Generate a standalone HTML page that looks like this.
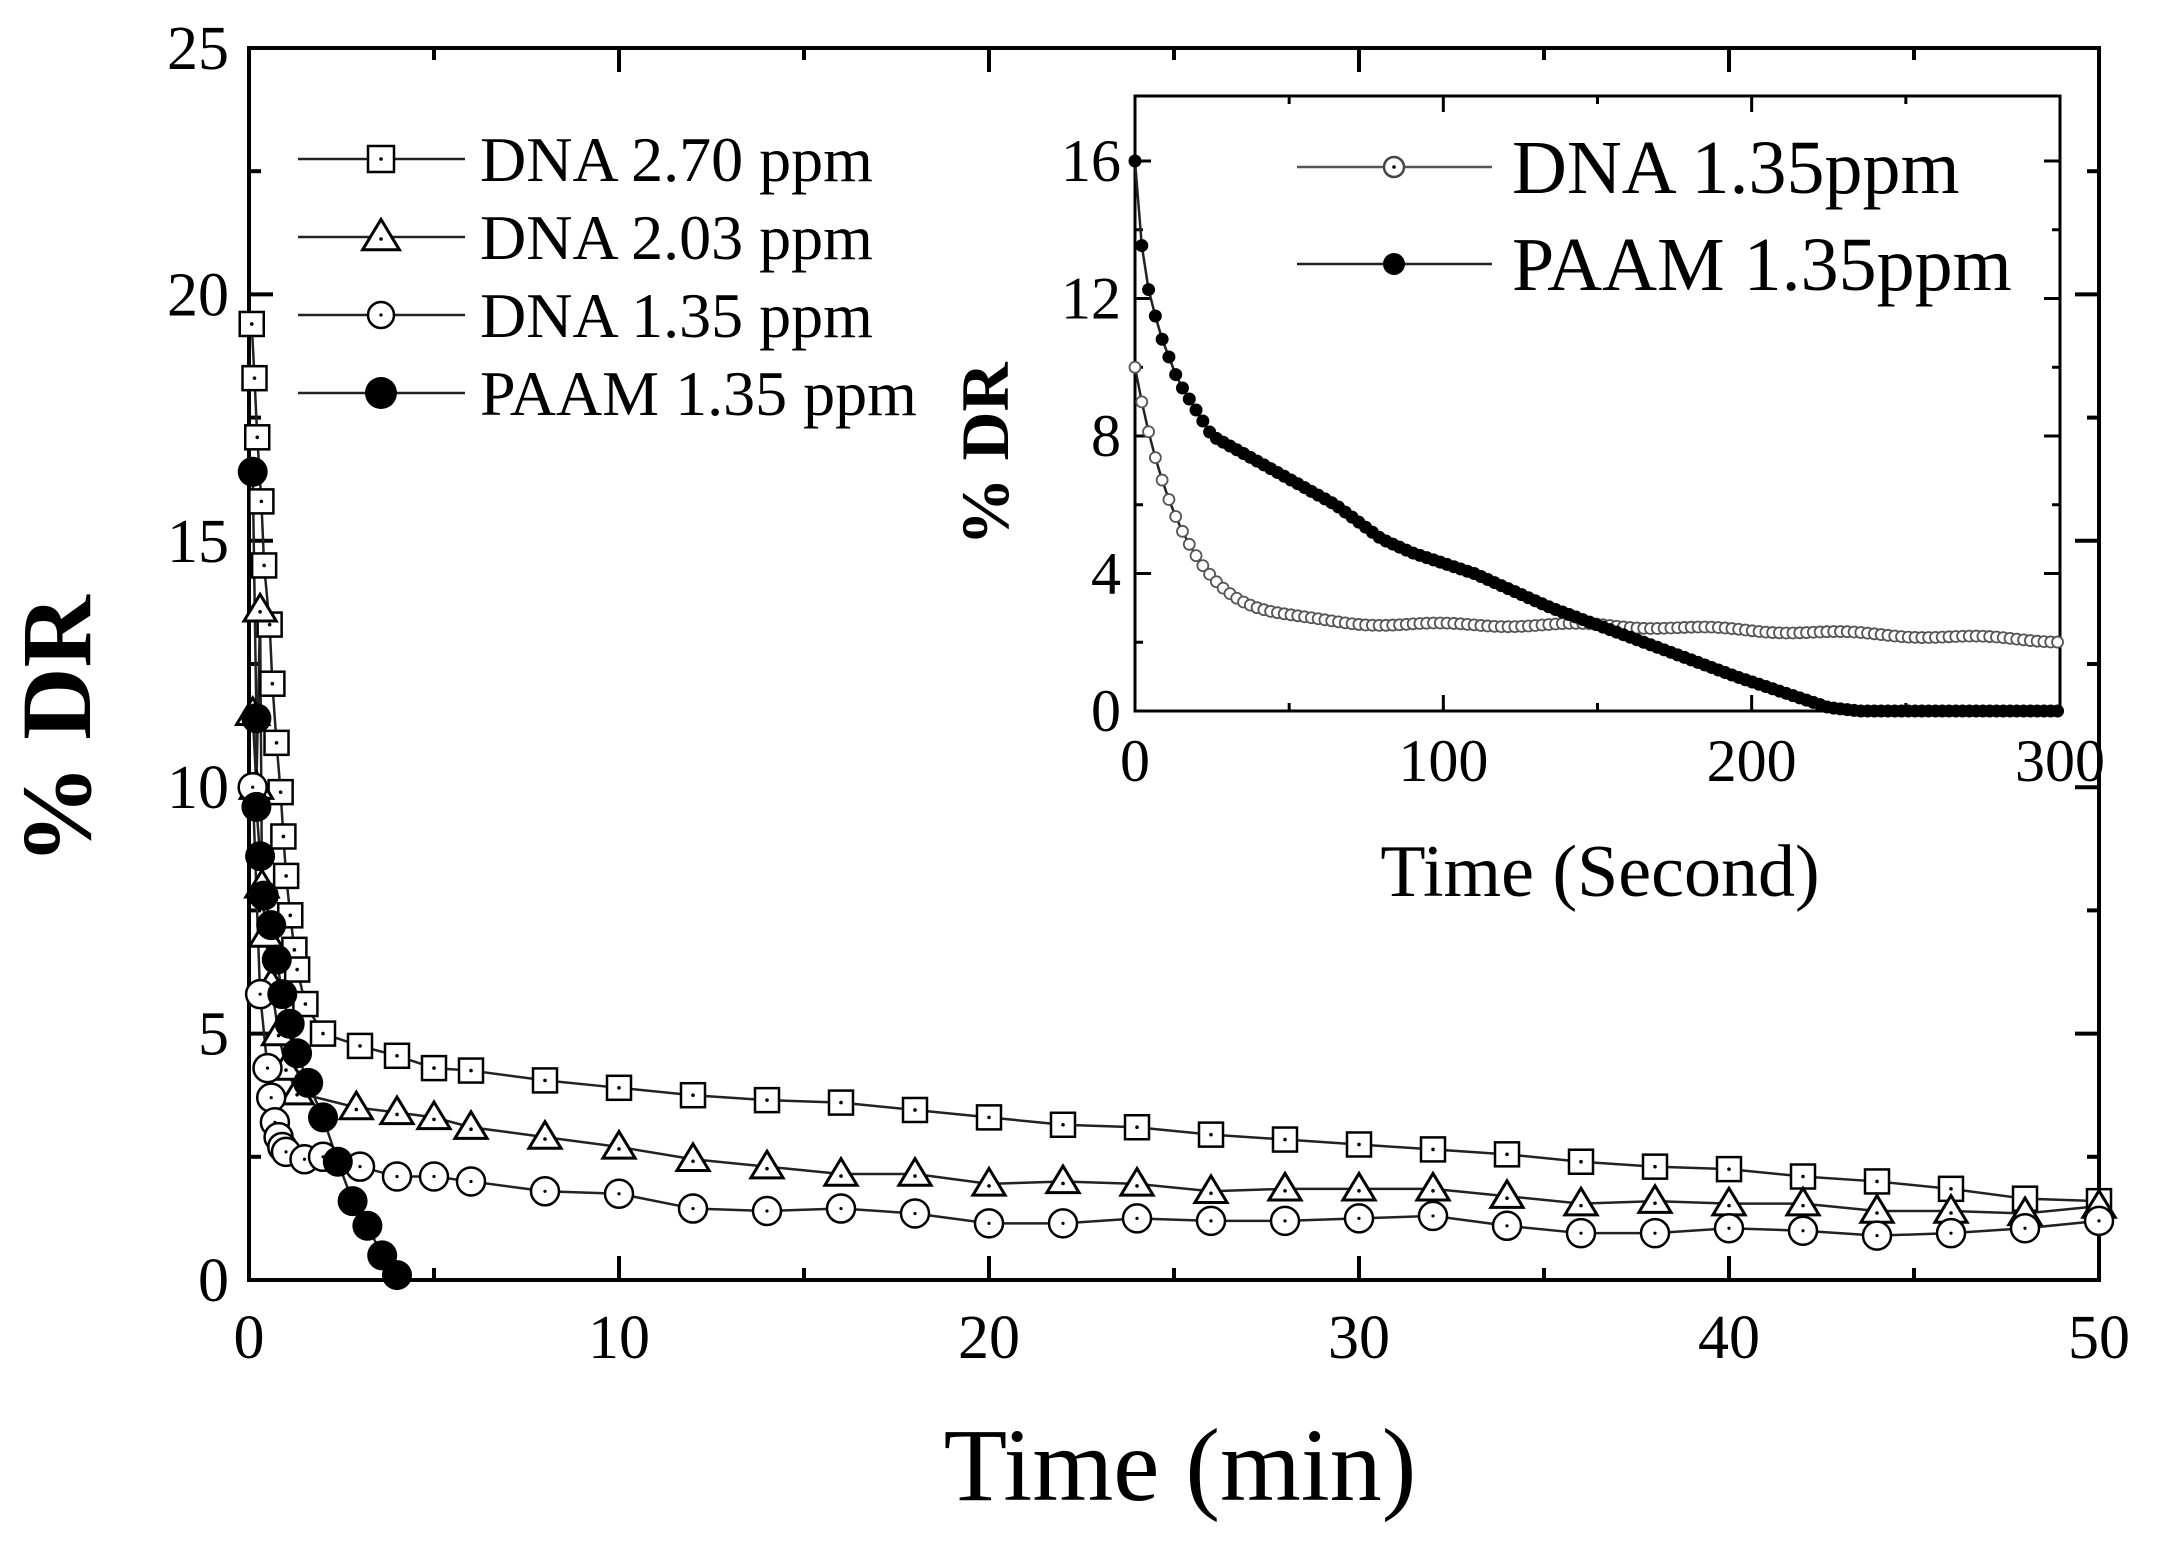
<!DOCTYPE html><html><head><style>body{margin:0;background:#fff}svg{display:block}text{font-family:"Liberation Serif",serif;fill:#000}</style></head><body>
<svg id="s" width="2158" height="1552" xmlns="http://www.w3.org/2000/svg"></svg>
<script>
const s=document.getElementById('s');let h='';
const X0=249,X1=2099,Y0=1280,Y1=48;
const mx=t=>X0+(X1-X0)*t/50,my=v=>Y0-(Y0-Y1)*v/25;
h+=`<rect x="${X0}" y="${Y1}" width="${X1-X0}" height="${Y0-Y1}" fill="none" stroke="#000" stroke-width="4"/>`;
for(let t=0;t<=50;t+=5){const L=t%10?12:24;h+=`<line x1="${mx(t)}" y1="${Y0}" x2="${mx(t)}" y2="${Y0-L}" stroke="#000" stroke-width="4"/><line x1="${mx(t)}" y1="${Y1}" x2="${mx(t)}" y2="${Y1+L}" stroke="#000" stroke-width="4"/>`;
 if(t%10==0)h+=`<text x="${mx(t)}" y="${Y0+78}" font-size="62" text-anchor="middle">${t}</text>`;}
for(let v=0;v<=25;v+=2.5){const L=(v%5)?12:24;h+=`<line x1="${X0}" y1="${my(v)}" x2="${X0+L}" y2="${my(v)}" stroke="#000" stroke-width="4"/><line x1="${X1}" y1="${my(v)}" x2="${X1-L}" y2="${my(v)}" stroke="#000" stroke-width="4"/>`;
 if(v%5==0)h+=`<text x="${X0-20}" y="${my(v)+21}" font-size="62" text-anchor="end">${v}</text>`;}
h+=`<text x="1180" y="1500" font-size="104" text-anchor="middle">Time (min)</text>`;
h+=`<text transform="translate(90,730) rotate(-90)" font-size="100" font-weight="bold" text-anchor="middle">% DR</text>`;
function line(pts,fx,fy){return `<polyline points="${pts.map(p=>fx(p[0])+','+fy(p[1])).join(' ')}" fill="none" stroke="#222" stroke-width="2.5"/>`}
function mk(type,x,y,r){
 if(type=='sq')return `<rect x="${x-r}" y="${y-r}" width="${2*r}" height="${2*r}" fill="#fff" stroke="#000" stroke-width="2.5"/><circle cx="${x}" cy="${y}" r="1.8"/>`;
 if(type=='tr')return `<polygon points="${x},${y-r*1.1} ${x-r*1.15},${y+r*0.8} ${x+r*1.15},${y+r*0.8}" fill="#fff" stroke="#000" stroke-width="3"/><circle cx="${x}" cy="${y+2}" r="1.8"/>`;
 if(type=='ci')return `<circle cx="${x}" cy="${y}" r="${r}" fill="#fff" stroke="#000" stroke-width="2.5"/><circle cx="${x}" cy="${y}" r="1.6"/>`;
 return `<circle cx="${x}" cy="${y}" r="${r}" fill="#000"/>`;}
const sqE=[[183,19.4],[185,18.3],[187,17.1],[190,15.8],[192,14.5],[196,13.3],[198,12.1],[201,10.9],[204,9.9],[206,9.0],[208,8.2],[211,7.4],[214,6.7],[216,6.3],[222,5.6]].map(p=>[(p[0]-181)/26.9,p[1]]);
const sq=sqE.concat([[2,5.0],[3,4.75],[4,4.55],[5,4.3],[6,4.25],[8,4.05],[10,3.9],[12,3.75],[14,3.65],[16,3.6],[18,3.45],[20,3.3],[22,3.15],[24,3.1],[26,2.95],[28,2.85],[30,2.75],[32,2.65],[34,2.55],[36,2.4],[38,2.3],[40,2.25],[42,2.1],[44,2.0],[46,1.85],[48,1.65],[50,1.6]]);
const tr=[[0.1,11.5],[0.2,10],[0.3,13.6],[0.35,8],[0.45,7],[0.6,6],[0.8,5],[1.0,4.3],[1.3,3.8],[2.9,3.5],[4,3.4],[5,3.3],[6,3.1],[8,2.9],[10,2.7],[12,2.45],[14,2.3],[16,2.15],[18,2.15],[20,1.95],[22,2.0],[24,1.95],[26,1.8],[28,1.85],[30,1.85],[32,1.85],[34,1.7],[36,1.55],[38,1.6],[40,1.55],[42,1.55],[44,1.4],[46,1.4],[48,1.35],[50,1.5]];
const ci=[[0.1,10],[0.3,5.8],[0.5,4.3],[0.6,3.7],[0.7,3.2],[0.8,2.9],[0.9,2.7],[1.0,2.6],[1.5,2.45],[2,2.5],[3,2.3],[4,2.1],[5,2.1],[6,2.0],[8,1.8],[10,1.75],[12,1.45],[14,1.4],[16,1.45],[18,1.35],[20,1.15],[22,1.15],[24,1.25],[26,1.2],[28,1.2],[30,1.25],[32,1.3],[34,1.1],[36,0.95],[38,0.95],[40,1.05],[42,1.0],[44,0.9],[46,0.95],[48,1.05],[50,1.2]];
const pa=[[0.1,16.4],[0.2,11.4],[0.2,9.6],[0.3,8.6],[0.4,7.8],[0.6,7.2],[0.75,6.5],[0.9,5.8],[1.1,5.2],[1.3,4.6],[1.6,4.0],[2.0,3.3],[2.4,2.4],[2.8,1.6],[3.2,1.1],[3.6,0.5],[4.0,0.1]];
h+=line(sq,mx,my)+line(tr,mx,my)+line(ci,mx,my)+line(pa,mx,my);
sq.forEach(p=>h+=mk('sq',mx(p[0]),my(p[1]),12));
tr.forEach(p=>h+=mk('tr',mx(p[0]),my(p[1]),14));
ci.forEach(p=>h+=mk('ci',mx(p[0]),my(p[1]),14));
pa.forEach(p=>h+=mk('fi',mx(p[0]),my(p[1]),15));
const lg=[['sq','DNA 2.70 ppm',219],['tr','DNA 2.03 ppm',297],['ci','DNA 1.35 ppm',375],['fi','PAAM 1.35 ppm',453]];
lg.forEach(l=>{h+=`<line x1="298" y1="${l[2]-60}" x2="465" y2="${l[2]-60}" stroke="#222" stroke-width="2.5"/>`+mk(l[0],381,l[2]-60,l[0]=='tr'?16:l[0]=='fi'?16:13)+`<text x="480" y="${l[2]-38}" font-size="64">${l[1]}</text>`});
const A0=1135,A1=2060,B0=711,B1=96;
const ix=t=>A0+(A1-A0)*t/300,iy=v=>B0-(B0-161)*v/16;
h+=`<rect x="${A0}" y="${B1}" width="${A1-A0}" height="${B0-B1}" fill="none" stroke="#000" stroke-width="3"/>`;
for(let t=0;t<=300;t+=50){const L=t%100?8:16;h+=`<line x1="${ix(t)}" y1="${B0}" x2="${ix(t)}" y2="${B0-L}" stroke="#000" stroke-width="3"/><line x1="${ix(t)}" y1="${B1}" x2="${ix(t)}" y2="${B1+L}" stroke="#000" stroke-width="3"/>`;
 if(t%100==0)h+=`<text x="${ix(t)}" y="${B0+70}" font-size="60" text-anchor="middle">${t}</text>`;}
for(let v=0;v<=16;v+=2){const L=v%4?8:16;h+=`<line x1="${A0}" y1="${iy(v)}" x2="${A0+L}" y2="${iy(v)}" stroke="#000" stroke-width="3"/><line x1="${A1}" y1="${iy(v)}" x2="${A1-L}" y2="${iy(v)}" stroke="#000" stroke-width="3"/>`;
 if(v%4==0)h+=`<text x="${A0-14}" y="${iy(v)+20}" font-size="60" text-anchor="end">${v}</text>`;}
h+=`<text x="1600" y="896" font-size="74" text-anchor="middle">Time (Second)</text>`;
h+=`<text transform="translate(1008,454) rotate(-90)" font-size="68" font-weight="bold" text-anchor="middle">% DR</text>`;
const dna=[],pm=[];
const pk=[[0,16],[1,14.3],[4,12.4],[8,11],[14,9.6],[25,8],[45,7],[65,6],[80,5],[90,4.6],[110,4],[135,3],[165,2],[195,1],[225,0.1],[235,0],[300,0]];
function interp(t){for(let i=1;i<pk.length;i++)if(t<=pk[i][0]){const a=pk[i-1],b=pk[i];return a[1]+(b[1]-a[1])*(t-a[0])/(b[0]-a[0]);}return 0}
for(let t=0;t<=300;t+=2.2){let y=t<150?2.5+7.5*Math.exp(-t/15):2.5-0.45*(t-150)/150;y+=0.05*Math.sin(t/7);dna.push([t,y]);pm.push([t,interp(t)]);}
h+=line(dna,ix,iy)+line(pm,ix,iy);
dna.forEach(p=>h+=`<circle cx="${ix(p[0])}" cy="${iy(p[1])}" r="5.5" fill="#fff" stroke="#555" stroke-width="1.8"/>`);
pm.forEach(p=>h+=`<circle cx="${ix(p[0])}" cy="${iy(p[1])}" r="6.5" fill="#000"/>`);
h+=`<line x1="1297" y1="167" x2="1492" y2="167" stroke="#555" stroke-width="2.5"/><circle cx="1394" cy="167" r="10" fill="#fff" stroke="#444" stroke-width="2.5"/><circle cx="1394" cy="167" r="1.8"/><text x="1512" y="193" font-size="76">DNA 1.35ppm</text>`;
h+=`<line x1="1297" y1="264" x2="1492" y2="264" stroke="#222" stroke-width="2.5"/><circle cx="1394" cy="264" r="11" fill="#000"/><text x="1512" y="290" font-size="76">PAAM 1.35ppm</text>`;
s.innerHTML=h;
</script></body></html>
